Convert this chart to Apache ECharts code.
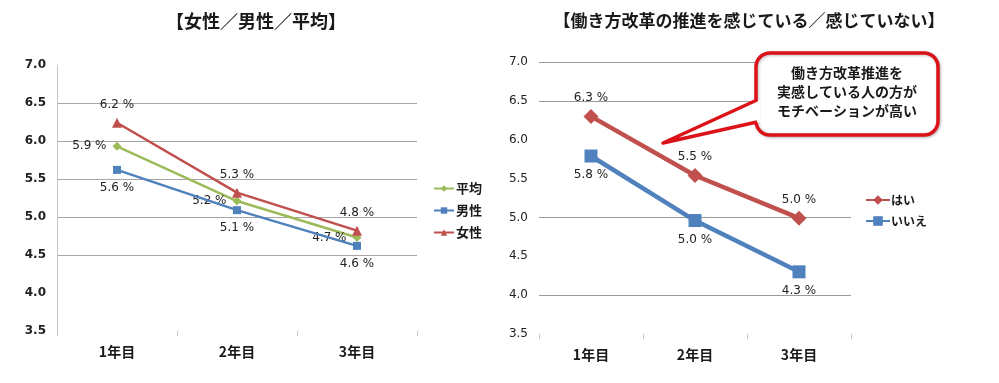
<!DOCTYPE html>
<html>
<head>
<meta charset="utf-8">
<script src="https://cdn.jsdelivr.net/npm/echarts@6/dist/echarts.min.js"></script>
<style>
  html, body { margin: 0; padding: 0; background: #ffffff; }
  #chart { width: 999px; height: 383px; }
</style>
</head>
<body>
<div id="chart"></div>
<script>
// ---- data ----
const categories = ['1年目', '2年目', '3年目'];
const avgValues = [5.93, 5.21, 4.73];     // 平均
const maleValues = [5.62, 5.09, 4.62];    // 男性
const femaleValues = [6.24, 5.32, 4.82];  // 女性
const yesValues = [6.30, 5.54, 4.99];     // はい
const noValues = [5.79, 4.96, 4.30];      // いいえ
const yMin = 3.5;
const yMax = 7.0;
const yInterval = 0.5;
// ticks 3.5 .. 7.0 ; which ones carry a visible gridline in each panel
const leftGridVisible = [false, false, true, true, true, true, true, false];
const rightGridVisible = [false, true, false, true, false, false, true, true];
const leftTitle = '【女性／男性／平均】';
const rightTitle = '【働き方改革の推進を感じている／感じていない】';
const calloutText = '働き方改革推進を\n実感している人の方が\nモチベーションが高い';

const JP = "'Noto Sans CJK JP', 'Noto Sans', sans-serif";
const NUM = "'DejaVu Sans', 'Noto Sans', sans-serif";

function gridColors(flags, color) {
  return flags.map(f => f ? color : 'rgba(0,0,0,0)');
}
const pct = p => p.value.toFixed(1) + ' %';

function labelCfg(position, distance) {
  return {
    show: true, position: position, distance: distance,
    formatter: pct, fontFamily: NUM, fontSize: 12, color: '#222'
  };
}

const chart = echarts.init(document.getElementById('chart'), null, { renderer: 'canvas' });

const option = {
  animation: false,
  backgroundColor: '#ffffff',
  title: [
    { text: leftTitle, left: 256, top: 12, padding: 0, textAlign: 'center',
      textStyle: { fontFamily: JP, fontSize: 18, fontWeight: 'bold', color: '#1a1a1a' } },
    { text: rightTitle, left: 749, top: 12, padding: 0, textAlign: 'center',
      textStyle: { fontFamily: JP, fontSize: 17, fontWeight: 'bold', color: '#1a1a1a' } }
  ],
  grid: [
    { left: 57, right: 582, top: 65, bottom: 52, containLabel: false },
    { left: 539, right: 148, top: 62, bottom: 49, containLabel: false }
  ],
  xAxis: [
    { type: 'category', gridIndex: 0, data: categories, boundaryGap: true,
      axisLine: { show: false },
      axisTick: { show: true, length: 5, lineStyle: { color: '#c8c8c8' } },
      axisLabel: { margin: 14, fontFamily: JP, fontSize: 14, fontWeight: 'bold', color: '#1a1a1a' },
      splitLine: { show: false } },
    { type: 'category', gridIndex: 1, data: categories, boundaryGap: true,
      axisLine: { show: false },
      axisTick: { show: true, length: 5, lineStyle: { color: '#c8c8c8' } },
      axisLabel: { margin: 14, fontFamily: JP, fontSize: 14, fontWeight: 'bold', color: '#1a1a1a' },
      splitLine: { show: false } }
  ],
  yAxis: [
    { type: 'value', gridIndex: 0, min: yMin, max: yMax, interval: yInterval,
      axisLine: { show: true, lineStyle: { color: '#c8c8c8' } },
      axisTick: { show: false },
      axisLabel: { margin: 11, fontFamily: NUM, fontSize: 12, fontWeight: 'bold', color: '#222',
                   formatter: v => v.toFixed(1) },
      splitLine: { show: true, showMinLine: true, showMaxLine: true,
                   lineStyle: { width: 1, color: gridColors(leftGridVisible, '#a6a6a6') } } },
    { type: 'value', gridIndex: 1, min: yMin, max: yMax, interval: yInterval,
      axisLine: { show: false },
      axisTick: { show: false },
      axisLabel: { margin: 11, fontFamily: NUM, fontSize: 12, color: '#222',
                   formatter: v => v.toFixed(1) },
      splitLine: { show: true, showMinLine: true, showMaxLine: true,
                   lineStyle: { width: 1, color: gridColors(rightGridVisible, '#9a9a9a') } } }
  ],
  legend: [
    { data: ['平均', '男性', '女性'], orient: 'vertical', left: 433, top: 182, padding: 0,
      itemWidth: 20, itemHeight: 8, itemGap: 9, selectedMode: false,
      textStyle: { fontFamily: JP, fontSize: 13, fontWeight: 'bold', color: '#1a1a1a', padding: [0, 0, 0, -3] } },
    { data: ['はい', 'いいえ'], orient: 'vertical', left: 865, top: 194, padding: 0,
      itemWidth: 24, itemHeight: 12, itemGap: 9, selectedMode: false,
      textStyle: { fontFamily: JP, fontSize: 12, fontWeight: 'bold', color: '#1a1a1a', padding: [0, 0, 0, -4] } }
  ],
  series: [
    { name: '平均', type: 'line', xAxisIndex: 0, yAxisIndex: 0, data: avgValues,
      color: '#9BBB59', symbol: 'diamond', symbolSize: 9,
      lineStyle: { width: 2.5, color: '#9BBB59' }, itemStyle: { color: '#9BBB59' },
      label: labelCfg('left', 6), z: 2 },
    { name: '男性', type: 'line', xAxisIndex: 0, yAxisIndex: 0, data: maleValues,
      color: '#4F81BD', symbol: 'rect', symbolSize: 8,
      lineStyle: { width: 2.5, color: '#4F81BD' }, itemStyle: { color: '#4F81BD' },
      label: labelCfg('bottom', 8), z: 3 },
    { name: '女性', type: 'line', xAxisIndex: 0, yAxisIndex: 0, data: femaleValues,
      color: '#C0504D', symbol: 'triangle', symbolSize: 10,
      lineStyle: { width: 2.5, color: '#C0504D' }, itemStyle: { color: '#C0504D' },
      label: labelCfg('top', 7), z: 4 },
    { name: 'はい', type: 'line', xAxisIndex: 1, yAxisIndex: 1, data: yesValues,
      color: '#C0504D', symbol: 'diamond', symbolSize: 15,
      lineStyle: { width: 4.5, color: '#C0504D' }, itemStyle: { color: '#C0504D' },
      label: labelCfg('top', 5), z: 3 },
    { name: 'いいえ', type: 'line', xAxisIndex: 1, yAxisIndex: 1, data: noValues,
      color: '#4F81BD', symbol: 'rect', symbolSize: 13,
      lineStyle: { width: 4.5, color: '#4F81BD' }, itemStyle: { color: '#4F81BD' },
      label: labelCfg('bottom', 6.5), z: 2 }
  ],
  graphic: [
    { type: 'rect', z: 100, silent: true,
      shape: { x: 756, y: 53, width: 182, height: 82, r: 14 },
      style: { fill: '#ffffff', stroke: '#dc1219', lineWidth: 3.5,
               shadowBlur: 3, shadowColor: 'rgba(0,0,0,0.25)', shadowOffsetX: 1, shadowOffsetY: 1 } },
    { type: 'polygon', z: 101, silent: true,
      shape: { points: [[760, 100], [663, 143], [760, 122]] },
      style: { fill: '#ffffff' } },
    { type: 'polyline', z: 102, silent: true,
      shape: { points: [[757, 100], [663, 143], [757, 122]] },
      style: { stroke: '#dc1219', lineWidth: 3.5, fill: null, lineJoin: 'round' } },
    { type: 'text', z: 103, silent: true, x: 847, y: 92,
      style: { text: calloutText, align: 'center', verticalAlign: 'middle',
               font: "bold 14px 'Noto Sans CJK JP', sans-serif", lineHeight: 19, fill: '#1a1a1a' } }
  ]
};

chart.setOption(option);
</script>
</body>
</html>
